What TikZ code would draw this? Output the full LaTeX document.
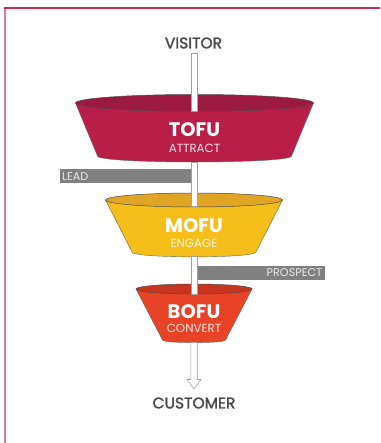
\documentclass[tikz,border=0pt]{standalone}
\usepackage{fontspec}
\setmainfont{Poppins}
\newfontfamily\heavyish[FakeBold=1.6]{Poppins}
\definecolor{frameTop}{HTML}{D42A52}
\definecolor{frameLeft}{HTML}{D97B9C}
\definecolor{tofuBody}{HTML}{B81E48}
\definecolor{tofuTop}{HTML}{9C1A42}
\definecolor{mofuBody}{HTML}{F6BE1A}
\definecolor{mofuTop}{HTML}{E0A524}
\definecolor{bofuBody}{HTML}{E84326}
\definecolor{bofuTop}{HTML}{C8341E}
\definecolor{tagGray}{HTML}{808080}
\definecolor{txtGray}{HTML}{4A4A4A}
\definecolor{pipeLine}{HTML}{A0A0A0}
\tikzset{
  x=1pt, y=-1pt,
  body/.style={draw=black!60, line width=0.4pt},
  rim/.style={draw=black!70, line width=0.5pt},
  pipe/.style={draw=pipeLine, fill=white, line width=0.6pt},
  tag/.style={fill=tagGray, draw=none},
  tagtext/.style={text=white!92!black, font=\fontsize{11.2}{11.2}\selectfont, inner sep=0pt},
  bigtitle/.style={text=white, font=\fontsize{19.5}{19.5}\selectfont\bfseries, inner sep=0pt},
  subtitle/.style={font=\fontsize{11.8}{11.8}\selectfont, inner sep=0pt},
  endtext/.style={text=txtGray, font=\heavyish\fontsize{15.5}{15.5}\selectfont, inner sep=0pt}
}
\begin{document}
\begin{tikzpicture}
\useasboundingbox (0,0) rectangle (380,443);
\fill[white] (0,0) rectangle (380,443);
% frame
\draw[frameLeft, line width=1.6pt] (5,8) -- (5,443);
\draw[frameTop, line width=1.6pt] (4.2,8) -- (380,8);

% labels
\node[endtext] (visitor) at (193.5,43) {VISITOR};
\node[endtext] (customer) at (194,403) {CUSTOMER};

% ---------- TOFU ----------
\fill[tofuBody, body] (75.5,103) -- (97.5,156) .. controls (97.5,164) and (291.5,164) .. (291.5,156) -- (313.5,103) -- cycle;
\draw[rim, fill=tofuTop] (194.5,103) ellipse [x radius=119, y radius=8.5];
\coordinate (tofuIn) at (194,111.3);
\coordinate (tofuOut) at (194,162);
\node[bigtitle] (tofu) at (194.5,130) {TOFU};
\node[subtitle, text=white!88!tofuBody] (attract) at (194.5,148) {ATTRACT};

% ---------- MOFU ----------
\fill[mofuBody, body] (105.5,200) -- (132,252) .. controls (132,258.5) and (256,258.5) .. (256,252) -- (282.5,200) -- cycle;
\draw[rim, fill=mofuTop] (194,200) ellipse [x radius=88.5, y radius=7];
\coordinate (mofuIn) at (194,206.8);
\coordinate (mofuOut) at (194,256.5);
\node[bigtitle] (mofu) at (194,226) {MOFU};
\node[subtitle, text=white!85!mofuBody] (engage) at (194,243) {ENGAGE};

% ---------- BOFU ----------
\fill[bofuBody, body] (136,289) -- (162.5,340) .. controls (162.5,343.5) and (225.5,343.5) .. (225.5,340) -- (252,289) -- cycle;
\draw[rim, fill=bofuTop] (194,289) ellipse [x radius=58, y radius=5];
\coordinate (bofuIn) at (194,293.8);
\coordinate (bofuOut) at (194,342.5);
\node[bigtitle] (bofu) at (194,312) {BOFU};
\node[subtitle, text=white!88!bofuBody] (convert) at (194,328.5) {CONVERT};

% ---------- pipe segments ----------
\coordinate (pipeTop) at (194,53);
\path[pipe] ([xshift=-3.2pt]pipeTop) rectangle ([xshift=3.2pt]tofuIn);
\path[pipe] ([xshift=-3.2pt]tofuOut) rectangle ([xshift=3.2pt]mofuIn);
\path[pipe] ([xshift=-3.2pt]mofuOut) rectangle ([xshift=3.2pt]bofuIn);
% arrow to customer
\coordinate (arrowTip) at (194,389);
\path[pipe, line join=miter] ([xshift=-3.2pt]bofuOut) -- (190.8,379.5) -- (187,379.5) -- (arrowTip) -- (201,379.5) -- (197.2,379.5) -- ([xshift=3.2pt]bofuOut);

% ---------- tags ----------
\fill[tag] (60,169) rectangle (190.5,183);
\node[tagtext, anchor=west] (lead) at (62,176.3) {LEAD};
\fill[tag] (197.5,266) rectangle (325,279.5);
\node[tagtext, anchor=east] (prospect) at (322.5,273) {PROSPECT};
\end{tikzpicture}
\end{document}
